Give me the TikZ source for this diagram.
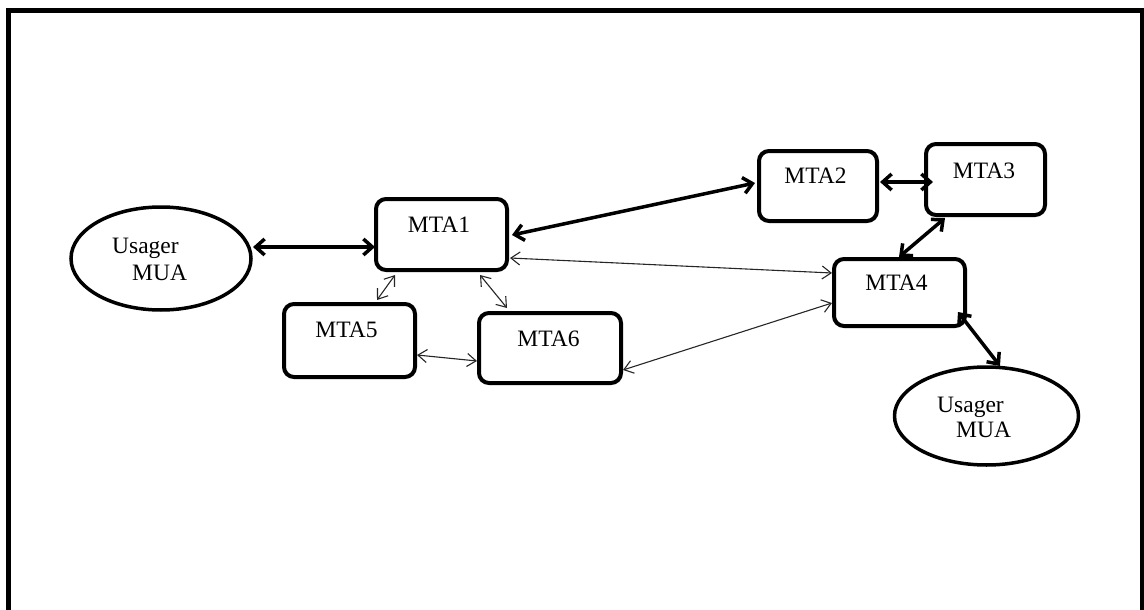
\documentclass[tikz,border=0pt]{standalone}
\usepackage{fontspec}
\setmainfont{Liberation Serif}
\usetikzlibrary{arrows.meta,shapes.geometric}

\tikzset{
  mta/.style={draw, line width=4pt, rounded corners=10pt, inner sep=0pt},
  mua/.style={draw, ellipse, line width=3.5pt, inner sep=0pt},
  lbl/.style={font=\fontsize{23.5}{28}\selectfont, inner sep=0pt, anchor=base},
  lblw/.style={lbl, anchor=base west},
  bold link/.style={line width=3.5pt, {Straight Barb[length=9pt,width=16pt]}-{Straight Barb[length=9pt,width=16pt]}},
  thin link/.style={line width=1.1pt, draw=black!85, {Straight Barb[length=9pt,width=13pt]}-{Straight Barb[length=9pt,width=13pt]}}
}

\begin{document}
\begin{tikzpicture}[x=1pt, y=-1pt]
  \useasboundingbox (0,0) rectangle (1144,610);

  % outer frame (open at the bottom)
  \draw[line width=5pt] (8.5,615) -- (8.5,11) -- (1142,11) -- (1142,615);

  % user agents
  \node[mua, minimum width=180pt, minimum height=103pt] (mua1) at (161,258.5) {};
  \node[mua, minimum width=184pt, minimum height=98pt] (mua2) at (986.5,416) {};
  \node[lblw] (mua1a) at (112,253) {Usager};
  \node[lblw] (mua1b) at (132,280) {MUA};
  \node[lblw] (mua2a) at (937,412) {Usager};
  \node[lblw] (mua2b) at (956,437) {MUA};

  % transfer agents
  \node[mta, minimum width=131pt, minimum height=71pt] (mta1) at (441.5,234.5) {};
  \node[mta, minimum width=118pt, minimum height=70pt] (mta2) at (818,186) {};
  \node[mta, minimum width=119pt, minimum height=71pt] (mta3) at (985.5,179.5) {};
  \node[mta, minimum width=131pt, minimum height=67pt] (mta4) at (899.5,292.5) {};
  \node[mta, minimum width=131pt, minimum height=73pt] (mta5) at (349.5,340.5) {};
  \node[mta, minimum width=142pt, minimum height=70pt] (mta6) at (550,348) {};

  \node[lbl] (t1) at (439,232) {MTA1};
  \node[lbl] (t2) at (815.5,183) {MTA2};
  \node[lbl] (t3) at (984,178) {MTA3};
  \node[lbl] (t4) at (896.5,290) {MTA4};
  \node[lbl] (t5) at (346.5,337) {MTA5};
  \node[lbl] (t6) at (548.5,346) {MTA6};

  % main relay path
  \draw[bold link] ([shift={(92,-11.5)}]mua1.center) -- ([shift={(-66.5,12.5)}]mta1.center);
  \draw[bold link] ([shift={(70.5,0.5)}]mta1.center) -- ([shift={(-63,-3)}]mta2.center);
  \draw[bold link] ([shift={(62,-4)}]mta2.center) -- ([shift={(-52.5,2.5)}]mta3.center);
  \draw[bold link] ([shift={(-40.5,38.5)}]mta3.center) -- ([shift={(-0.5,-35.5)}]mta4.center);
  \draw[bold link] ([shift={(58.5,19.5)}]mta4.center) -- ([shift={(13.5,-50)}]mua2.center);

  % secondary links
  \draw[thin link] ([shift={(68.5,23.5)}]mta1.center) -- ([shift={(-67.5,-19.5)}]mta4.center);
  \draw[thin link] ([shift={(73,22)}]mta6.center) -- ([shift={(-67.5,10.5)}]mta4.center);
  \draw[thin link] ([shift={(-46.5,40.5)}]mta1.center) -- ([shift={(27.5,-40.5)}]mta5.center);
  \draw[thin link] ([shift={(38.5,40.5)}]mta1.center) -- ([shift={(-43,-40)}]mta6.center);
  \draw[thin link] ([shift={(67.5,14.5)}]mta5.center) -- ([shift={(-73,13)}]mta6.center);
\end{tikzpicture}
\end{document}
